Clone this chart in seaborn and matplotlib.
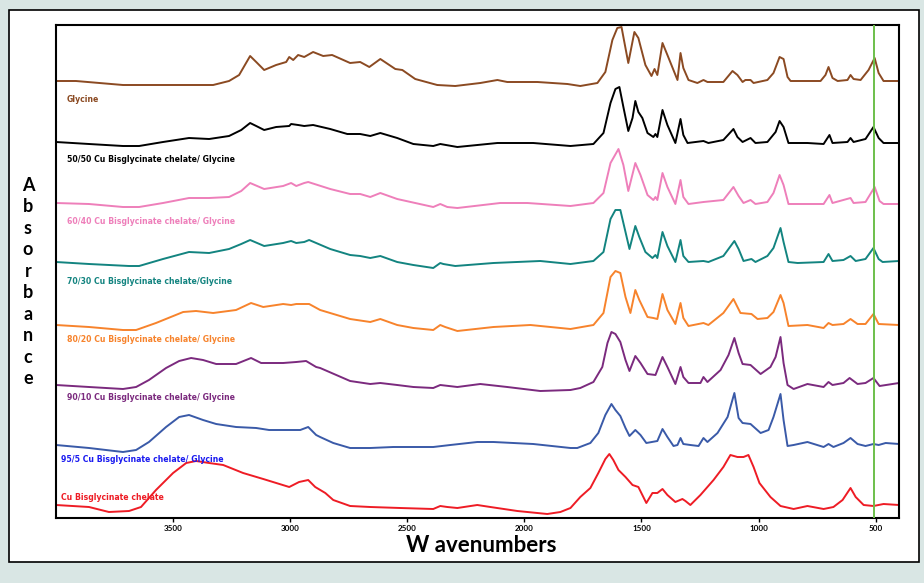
import matplotlib
matplotlib.use("Agg")
import matplotlib.pyplot as plt
from matplotlib.patches import Rectangle
import pandas as pd
import seaborn as sns

# ---------------- data (wavenumber, cm-1 ; absorbance, arbitrary units above each baseline) -------------
gly_wn = [4000,3915,3714,3329,3261,3218,3171,3145,3111,3060,3017,3004,2987,2966,2940,2902,2859,2821,2744,2701,
          2662,2615,2551,2521,2466,2372,2295,2188,2115,2073,1944,1816,1761,1688,1654,1624,1603,1585,1577,1556,
          1530,1513,1483,1457,1444,1432,1410,1389,1346,1333,1321,1299,1261,1235,1218,1150,1111,1090,1068,1056,
          1034,1021,962,936,910,893,876,863,735,714,701,684,662,620,607,594,564,530,504,487,466,400]
gly_abs = [0,0,-4,-4,0,6,25,19,11,16,19,24,21,26,24,29,25,26,18,19,
           14,22,12,11,2,-4,-5,-2,1,-1,-1,-3,-5,-2,9,41,53,54,44,18,
           49,43,16,5,12,6,38,26,1,28,13,1,-2,1,-1,-1,10,6,-1,1,
           1,-2,1,8,24,22,4,0,0,6,14,3,0,1,6,2,1,11,23,8,0,0]

m50_wn = [4000,3859,3714,3645,3543,3432,3346,3261,3209,3171,3145,3111,3060,3004,2996,2966,2940,2902,2829,2756,
          2701,2658,2615,2543,2474,2389,2359,2286,2115,1962,1803,1705,1662,1632,1611,1594,1577,1556,1538,1526,
          1513,1496,1474,1449,1440,1432,1410,1389,1355,1333,1321,1303,1235,1214,1150,1107,1090,1068,1034,1013,
          962,927,910,893,872,791,722,697,684,620,607,594,543,509,487,466,400]
m50_abs = [0,-2,-4,-4,0,4,3,6,12,19,16,12,15,16,18,17,16,17,13,8,
           8,6,9,4,-2,-4,-2,-5,-1,-1,-4,-2,9,39,53,55,35,11,24,41,
           30,24,9,5,8,5,32,17,-1,23,7,-1,1,-1,2,13,5,0,4,-1,
           0,10,21,15,-1,-1,-2,7,-1,0,4,0,3,15,4,-1,-1]

m60_wn = [4000,3859,3714,3645,3543,3432,3346,3261,3209,3171,3111,3030,2996,2974,2940,2923,2829,2744,2701,2658,
          2615,2543,2466,2389,2359,2329,2286,2103,1987,1803,1705,1662,1632,1598,1577,1556,1526,1504,1474,1449,
          1440,1432,1410,1389,1355,1333,1321,1299,1235,1150,1107,1085,1064,1034,1013,962,936,910,893,872,
          722,697,684,607,594,543,504,483,466,400]
m60_abs = [0,-1,-4,-4,0,5,5,6,12,20,14,17,20,17,20,21,14,9,9,6,
           10,4,0,-4,-1,-4,-5,0,0,-3,0,10,40,54,38,12,40,28,8,3,
           6,3,30,16,-1,23,6,-1,1,3,16,7,0,3,-1,1,10,28,18,-1,
           -1,8,0,5,0,1,16,2,-1,-1]

m70_wn = [4000,3859,3688,3645,3543,3432,3346,3261,3209,3171,3111,3030,2996,2974,2940,2919,2829,2744,2701,2658,
          2615,2543,2474,2389,2359,2346,2295,2132,1932,1803,1705,1662,1632,1611,1590,1568,1551,1526,1509,1483,
          1453,1440,1432,1410,1389,1355,1333,1321,1299,1235,1214,1150,1103,1085,1064,1030,1013,962,936,906,
          893,872,833,722,701,684,637,607,585,543,509,487,470,400]
m70_abs = [0,-2,-4,-4,3,10,9,13,18,22,16,19,21,19,20,22,13,7,6,4,
           6,0,-3,-6,-1,-2,-4,-1,1,-2,1,10,43,52,52,30,13,36,25,10,
           4,7,4,30,16,0,22,6,0,1,0,6,21,13,1,3,0,6,14,34,
           20,0,-1,0,8,1,2,6,1,3,14,3,0,1]

m80_wn = [4000,3859,3714,3658,3573,3457,3402,3329,3231,3167,3115,3030,2996,2974,2919,2872,2744,2658,2615,2543,
          2474,2389,2359,2338,2286,2132,1974,1803,1705,1662,1632,1611,1590,1568,1547,1526,1509,1474,1449,1432,
          1410,1389,1355,1333,1321,1299,1235,1214,1150,1107,1077,1030,1004,962,936,906,893,872,791,722,
          701,684,637,607,577,543,509,487,400]
m80_abs = [0,-2,-5,-5,2,13,14,12,15,22,18,21,20,21,21,15,6,3,6,0,
           -3,-5,0,-2,-6,-2,0,-4,0,12,48,54,52,28,12,35,25,8,7,6,
           31,15,1,22,7,-1,2,0,12,26,12,11,6,7,13,30,22,-1,0,-3,
           2,0,1,6,1,1,11,1,0]

m90_wn = [4000,3859,3714,3658,3603,3530,3474,3423,3372,3316,3231,3167,3124,3030,2974,2932,2889,2872,2744,2658,
          2615,2543,2474,2389,2359,2286,2188,2073,1932,1803,1761,1705,1667,1645,1628,1611,1590,1568,1551,1526,
          1504,1474,1440,1410,1389,1355,1333,1321,1299,1248,1235,1218,1162,1128,1103,1085,1068,1034,991,949,
          927,906,893,876,850,791,722,701,684,637,611,577,543,509,483,400]
m90_abs = [0,-2,-4,-2,5,17,24,27,25,21,21,27,22,22,23,24,18,17,4,1,
           2,0,-2,-3,0,-2,1,-2,-6,-5,-3,3,18,42,53,51,43,25,14,29,
           22,11,10,28,18,1,18,8,2,2,8,3,15,30,47,32,21,20,11,18,
           28,48,22,0,-4,1,-2,3,0,2,7,1,2,7,-1,2]

m95_wn = [4000,3859,3714,3658,3603,3530,3474,3432,3372,3316,3231,3145,3090,3004,2957,2923,2889,2872,2816,2744,
          2658,2560,2389,2316,2201,2132,1962,1803,1774,1718,1684,1654,1628,1611,1590,1568,1551,1526,1504,1479,
          1432,1410,1389,1363,1346,1333,1321,1291,1256,1235,1218,1175,1132,1103,1085,1068,1034,991,957,936,
          906,893,876,850,791,722,701,680,637,607,577,543,509,487,457,400]
m95_abs = [0,-3,-7,-5,3,18,28,30,25,21,18,17,15,15,15,18,10,8,2,-3,
           -3,-2,-2,0,3,3,1,-3,-3,2,12,30,41,35,29,17,9,15,10,2,
           4,16,8,-1,0,7,1,0,-1,7,3,12,28,52,27,22,21,12,15,28,
           51,25,-1,0,3,-2,1,-2,2,7,1,-1,1,0,2,1]

cu_wn = [4000,3859,3774,3688,3637,3573,3500,3444,3402,3346,3286,3201,3115,3004,2962,2923,2893,2850,2816,2744,
         2658,2530,2389,2359,2329,2286,2201,2145,2030,1902,1846,1803,1761,1718,1684,1654,1637,1620,1598,1568,
         1538,1513,1479,1453,1432,1410,1389,1355,1325,1312,1291,1248,1192,1150,1120,1090,1064,1043,1021,996,
         949,906,850,791,722,680,641,607,585,551,509,466,400]
cu_abs = [0,-2,-7,-6,-2,15,32,42,44,42,40,32,26,18,23,25,18,12,5,-1,
          -2,-3,-4,-1,-2,-3,0,-2,-6,-9,-7,-3,8,17,32,46,51,45,35,28,
          20,18,2,12,12,16,10,3,6,4,0,10,25,38,50,48,48,50,38,22,
          8,-1,-4,-1,-4,-2,5,17,8,0,-1,1,0]

names = ["Glycine",
         "50/50 Cu Bisglycinate chelate/ Glycine",
         "60/40 Cu Bisglycinate chelate/ Glycine",
         "70/30 Cu Bisglycinate chelate/Glycine",
         "80/20 Cu Bisglycinate chelate/ Glycine",
         "90/10 Cu Bisglycinate chelate/ Glycine",
         "95/5 Cu Bisglycinate chelate/ Glycine",
         "Cu Bisglycinate chelate"]
x_ticks = [3500, 3000, 2500, 2000, 1500, 1000, 500]
marker_wn = 505

# ---------------- styling / layout -------------
spectra = [(gly_wn, gly_abs), (m50_wn, m50_abs), (m60_wn, m60_abs), (m70_wn, m70_abs),
           (m80_wn, m80_abs), (m90_wn, m90_abs), (m95_wn, m95_abs), (cu_wn, cu_abs)]
line_colors = ['#8b4a22', '#000000', '#ee7fba', '#138480', '#f7832c', '#7b2a7e', '#3a5aa8', '#ee1c25']
text_colors = ['#8b4a22', '#000000', '#ee7fba', '#138480', '#f7832c', '#7b2a7e', '#1a1af0', '#ee1c25']
offsets = [437, 376, 315, 256, 193, 133, 73, 13]
label_y = [419, 358, 297, 236, 179, 121, 58, 21]
label_x = [3953, 3953, 3953, 3953, 3953, 3953, 3978, 3978]

sns.set_theme(style="white")
plt.rcParams['font.family'] = ['Lato', 'DejaVu Sans']
plt.rcParams['text.color'] = 'black'
plt.rcParams['xtick.color'] = 'black'

bg = '#d9e6e4'
fig = plt.figure(figsize=(9.24, 5.83), dpi=100, facecolor=bg)
panel = Rectangle((9 / 924, 1 - 562 / 583), 910 / 924, 552 / 583,
                  transform=fig.transFigure, facecolor='white',
                  edgecolor='black', lw=1.2, zorder=-10)
fig.patches.append(panel)
ax = fig.add_axes([56 / 924, 1 - 518 / 583, 843 / 924, 493 / 583])
ax.set_zorder(5)
ax.set_facecolor('white')

for (wn, ab), off, col in zip(spectra, offsets, line_colors):
    df = pd.DataFrame({"wavenumber": wn, "absorbance": [a + off for a in ab]})
    sns.lineplot(data=df, x="wavenumber", y="absorbance", color=col, lw=1.4,
                 sort=False, estimator=None, ax=ax)

for name, lx, ly, col in zip(names, label_x, label_y, text_colors):
    ax.text(lx, ly, name, color=col, fontsize=5.6, fontweight='bold', ha='left', va='center',
            family=['DejaVu Sans'])

ax.axvline(marker_wn, color='#6dbf4b', lw=1.4, zorder=5)

ax.set_xlim(4000, 400)
ax.set_ylim(0, 493)
ax.set_xticks(x_ticks)
ax.set_xticklabels([str(t) for t in x_ticks], fontsize=5.8, fontweight='bold')
ax.tick_params(axis='x', direction='out', length=3, width=1, pad=2, bottom=True, colors='black')
ax.set_yticks([])
ax.set_xlabel("")
ax.set_ylabel("")
for s in ax.spines.values():
    s.set_visible(True)
    s.set_color('black')
    s.set_linewidth(1.5)

fig.text(481 / 924, 1 - 545 / 583, "W avenumbers", fontsize=16, fontweight='bold',
         ha='center', va='center', color='black')
fig.text(28 / 924, 1 - 282 / 583, "\n".join("Absorbance"), fontsize=13, fontweight='bold',
         ha='center', va='center', linespacing=1.32, color='black')

fig.savefig("out.png", dpi=100, facecolor=bg)
